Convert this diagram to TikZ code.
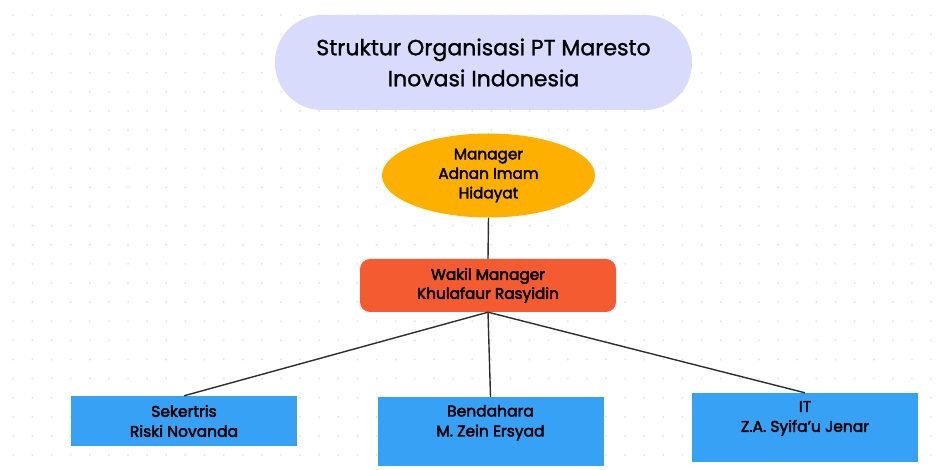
\documentclass[tikz,border=0pt]{standalone}
\usepackage{fontspec}
\setmainfont{Poppins}[FakeBold=1.2]
\newfontfamily\medfont{Poppins}[FakeBold=2.6]
\newfontfamily\semifont{Poppins}[FakeBold=3.2]
\usetikzlibrary{shapes.geometric, positioning}
\definecolor{dotgray}{HTML}{E3E5EA}
\definecolor{titlelilac}{HTML}{D8DBFB}
\definecolor{bossorange}{HTML}{FEB000}
\definecolor{deputyred}{HTML}{F55B30}
\definecolor{staffblue}{HTML}{36A1F5}
\definecolor{linegray}{HTML}{2E2E2E}

\begin{document}
\begin{tikzpicture}[x=1pt, y=-1pt,
	every node/.style={align=center, inner sep=0pt, text=black},
	title/.style={fill=titlelilac, rounded corners=47pt, minimum width=417pt, minimum height=95pt, font=\fontsize{22}{31}\selectfont},
	boss/.style={ellipse, fill=bossorange, minimum width=213pt, minimum height=84pt, font=\medfont\fontsize{15.3}{19.5}\selectfont},
	deputy/.style={fill=deputyred, rounded corners=10pt, minimum width=256pt, minimum height=53pt, font=\semifont\fontsize{15.3}{19}\selectfont},
	staff/.style={fill=staffblue, minimum width=226pt, minimum height=69pt},
	stafftext/.style={font=\medfont\fontsize{15.5}{20}\selectfont},
	link/.style={draw=linegray, line width=1.4pt}]
\useasboundingbox (0,0) rectangle (940,470);
\fill[white] (0,0) rectangle (940,470);
\foreach \i in {0,...,48}{
	\foreach \j in {0,...,23}{
		\fill[dotgray] (13.3+\i*19.12, 15.3+\j*19.12) circle (1.1);
	}
}

\node[title] (title) at (483.5,62.5) {Struktur Organisasi PT Maresto\\Inovasi Indonesia};
\node[boss] (manager) at (488.5,175.5) {Manager\\Adnan Imam\\Hidayat};
\node[deputy] (wakil) at (488,285.5) {Wakil Manager\\Khulafaur Rasyidin};

\node[staff, minimum height=50pt] (sekertris) at (184,421) {};
\node[stafftext] (sekertristext) at (sekertris) {Sekertris\\Riski Novanda};
\node[staff] (bendahara) at (490.5,431.5) {};
\node[stafftext, below=8pt of bendahara.north] (bendaharatext) {Bendahara\\M. Zein Ersyad};
\node[staff] (it) at (805,427.5) {};
\node[stafftext, below=8pt of it.north] (ittext) {IT\\Z.A. Syifa’u Jenar};

\draw[link] (manager.south) -- (wakil.north);
\draw[link] (wakil.south) -- (sekertris.north);
\draw[link] (wakil.south) -- (bendahara.north);
\draw[link] (wakil.south) -- (it.north);
\end{tikzpicture}
\end{document}
